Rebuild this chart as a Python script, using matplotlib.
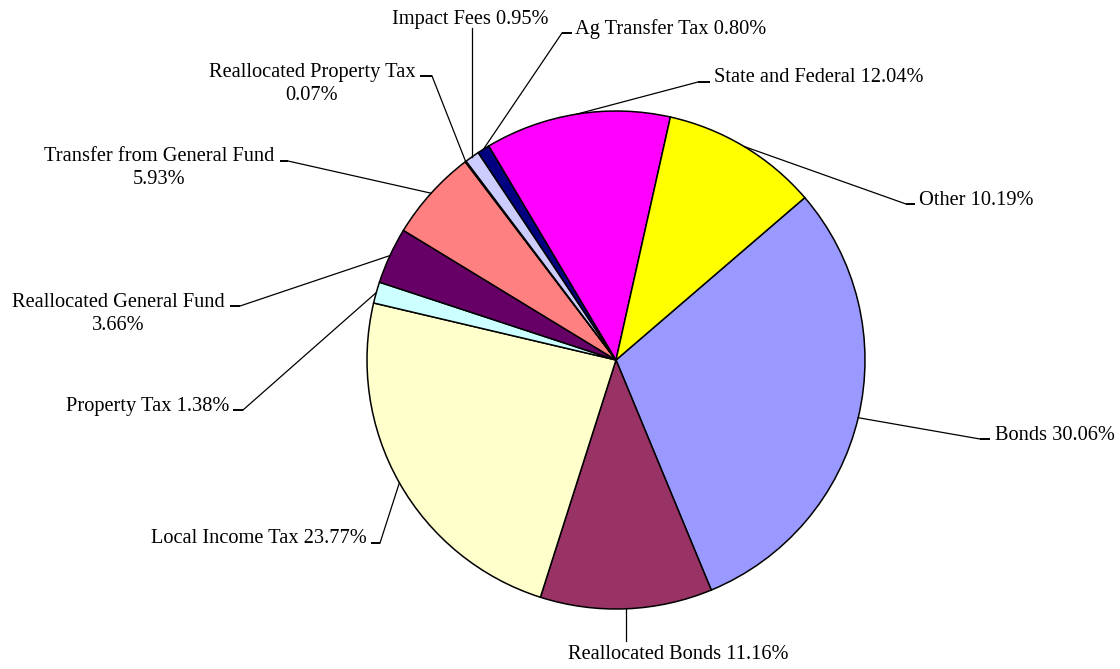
import matplotlib
matplotlib.use('Agg')
import matplotlib.pyplot as plt
import numpy as np

# data, in Excel series order (drawn clockwise)
categories = ['Bonds', 'Reallocated Bonds', 'Local Income Tax', 'Property Tax',
              'Reallocated General Fund', 'Transfer from General Fund',
              'Reallocated Property Tax', 'Impact Fees', 'Ag Transfer Tax',
              'State and Federal', 'Other']
shares = [30.06, 11.16, 23.77, 1.38, 3.66, 5.93, 0.07, 0.95, 0.80, 12.04, 10.19]
colors = ['#9999FF', '#993366', '#FFFFCC', '#CCFFFF', '#660066', '#FF8080',
          '#0066CC', '#CCCCFF', '#000080', '#FF00FF', '#FFFF00']
separators = [' ', ' ', ' ', ' ', '\n', '\n', '\n', ' ', ' ', ' ', ' ']

W, H = 1120, 669
cx, cy, rad = 616, 360, 249
line_gap = 23

# label layout in pixel coords (top origin):
# elbow x (None = straight down/up from the edge), elbow y, tick end x,
# text x, text y (first baseline), ha, va
layout = [
    (980, 439, 990, 995, 440, 'left', 'baseline'),
    (None, 641, None, 678, 645, 'center', 'top'),
    (380, 543, 371, 367, 543, 'right', 'baseline'),
    (243, 410, 233, 229, 411, 'right', 'baseline'),
    (240, 306, 230, 118, 307, 'center', 'baseline'),
    (288, 161, 280, 159, 161, 'center', 'baseline'),
    (432, 76, 420, 312, 77, 'center', 'baseline'),
    (None, 28, None, 470, 24, 'center', 'baseline'),
    (562, 33, 572, 575, 34, 'left', 'baseline'),
    (698, 82, 710, 714, 82, 'left', 'baseline'),
    (906, 204, 915, 919, 205, 'left', 'baseline'),
]

plt.rcParams['font.family'] = ['Liberation Serif', 'DejaVu Serif']

fig = plt.figure(figsize=(W / 100, H / 100), dpi=100)
ax = fig.add_axes([0, 0, 1, 1])

wedges, _ = ax.pie(shares, colors=colors, startangle=40.7, counterclock=False,
                   center=(cx, H - cy), radius=rad,
                   wedgeprops=dict(edgecolor='black', linewidth=1.1))

for w, name, pct, sep, lay in zip(wedges, categories, shares, separators, layout):
    ex, ey, tx, lx, ly, ha, va = lay
    mid = np.deg2rad((w.theta1 + w.theta2) / 2)
    px = cx + rad * np.cos(mid)
    py = (H - cy) + rad * np.sin(mid)
    if ex is None:
        ex = tx = px
    ax.plot([px, ex], [py, H - ey], color='black', lw=0.9)
    if tx != ex:
        ax.plot([ex, tx], [H - ey, H - ey], color='black', lw=1.4,
                solid_capstyle='butt')
    for i, part in enumerate(f'{name}{sep}{pct:.2f}%'.split('\n')):
        ax.text(lx, H - (ly + i * line_gap), part, ha=ha, va=va,
                fontsize=14.7, color='black')

ax.set_xlim(0, W)
ax.set_ylim(0, H)
ax.set_aspect('auto')
ax.axis('off')

fig.savefig('out.png', dpi=100, facecolor='white')
